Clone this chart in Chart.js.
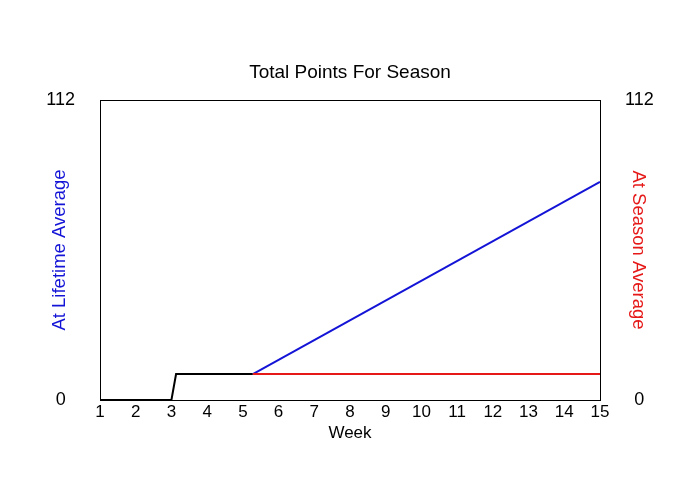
<!DOCTYPE html>
<html>
<head>
<meta charset="utf-8">
<script src="https://cdn.jsdelivr.net/npm/chart.js@4/dist/chart.umd.min.js"></script>
<style>
  html, body { margin: 0; padding: 0; background: #fff; }
  #wrap { width: 700px; height: 500px; }
</style>
</head>
<body>
<div id="wrap"><canvas id="c" width="700" height="500"></canvas></div>
<script>
// Data
const weekTicks = [1,2,3,4,5,6,7,8,9,10,11,12,13,14,15];
const actualWeeks = [1, 3, 3.13, 5.28];
const actualPoints = [0, 0, 9.7, 9.7];
const lifetimeWeeks = [5.28, 15];
const lifetimePoints = [9.7, 81.4];
const seasonWeeks = [5.28, 15];
const seasonPoints = [9.7, 9.7];
const yTickValues = [0, 112];

function pts(xs, ys) { return xs.map((x, i) => ({x: x, y: ys[i]})); }

const FONT = "'Liberation Sans', Arial, sans-serif";
const BLUE = 'rgb(20,20,215)';
const RED = 'rgb(230,25,25)';

new Chart(document.getElementById('c'), {
  type: 'line',
  data: {
    datasets: [
      { label: 'Season', data: pts(seasonWeeks, seasonPoints), borderColor: RED, borderWidth: 2, pointRadius: 0, tension: 0, yAxisID: 'y' },
      { label: 'Lifetime', data: pts(lifetimeWeeks, lifetimePoints), borderColor: BLUE, borderWidth: 2, pointRadius: 0, tension: 0, yAxisID: 'y' },
      { label: 'Actual', data: pts(actualWeeks, actualPoints), borderColor: '#000', borderWidth: 2, pointRadius: 0, tension: 0, yAxisID: 'y' }
    ]
  },
  options: {
    responsive: false,
    animation: false,
    layout: { padding: 0 },
    plugins: {
      legend: { display: false },
      tooltip: { enabled: false },
      title: {
        display: true,
        text: 'Total Points For Season',
        color: '#000',
        font: { family: FONT, size: 19, weight: 'normal' },
        padding: { top: 61.5, bottom: 15.7 }
      }
    },
    scales: {
      x: {
        type: 'linear',
        min: 1, max: 15,
        afterBuildTicks: (s) => { s.ticks = weekTicks.map(v => ({value: v})); },
        afterFit: (s) => { s.height = 100; },
        grid: { display: false, drawTicks: false },
        border: { display: true, color: '#000', width: 1 },
        ticks: { color: '#000', font: { family: FONT, size: 17 }, padding: 2, maxRotation: 0, autoSkip: false },
        title: { display: true, text: 'Week', color: '#000', font: { family: FONT, size: 17 }, padding: { top: 0, bottom: 56.5 } }
      },
      y: {
        position: 'left',
        min: 0, max: 112,
        afterBuildTicks: (s) => { s.ticks = yTickValues.map(v => ({value: v})); },
        afterFit: (s) => { s.width = 100; },
        grid: { display: false, drawTicks: false },
        border: { display: true, color: '#000', width: 1 },
        ticks: { color: '#000', font: { family: FONT, size: 18 }, padding: 25, crossAlign: 'center' },
        title: { display: true, text: 'At Lifetime Average', color: BLUE, font: { family: FONT, size: 18.5 }, padding: { top: 48.7, bottom: 0 } }
      },
      y2: {
        position: 'right',
        min: 0, max: 112,
        afterBuildTicks: (s) => { s.ticks = yTickValues.map(v => ({value: v})); },
        afterFit: (s) => { s.width = 100; },
        grid: { display: false, drawTicks: false },
        border: { display: true, color: '#000', width: 1 },
        ticks: { color: '#000', font: { family: FONT, size: 18 }, padding: 25, crossAlign: 'center' },
        title: { display: true, text: 'At Season Average', color: RED, font: { family: FONT, size: 18.5 }, padding: { top: 51, bottom: 0 } }
      },
      xTop: {
        type: 'linear', position: 'top', min: 1, max: 15,
        afterFit: (s) => { s.height = 0; },
        grid: { display: false, drawTicks: false },
        border: { display: true, color: '#000', width: 1 },
        ticks: { display: false }
      }
    }
  }
});
</script>
</body>
</html>
